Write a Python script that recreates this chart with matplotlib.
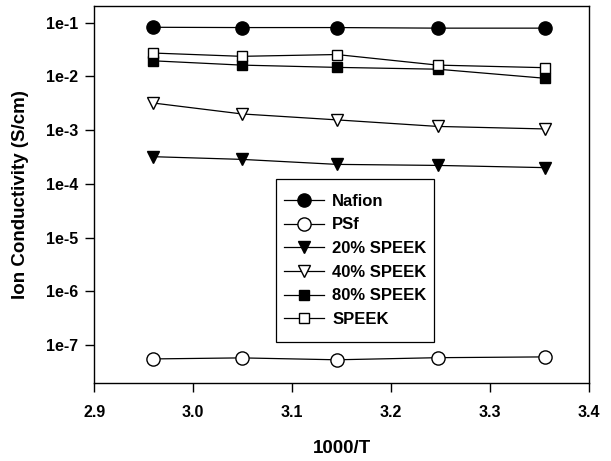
import matplotlib
matplotlib.use("Agg")
import matplotlib.pyplot as plt
from matplotlib.patches import Rectangle
from matplotlib.ticker import NullLocator

plt.rcParams["font.family"] = ["Liberation Sans", "DejaVu Sans"]
plt.rcParams["font.weight"] = "bold"

# 1000/T values (T = 338, 328, 318, 308, 298 K)
inv_t = [2.959, 3.049, 3.145, 3.247, 3.356]

nafion = [0.082, 0.081, 0.081, 0.079, 0.079]
psf = [5.5e-8, 5.75e-8, 5.3e-8, 5.8e-8, 6.0e-8]
speek20 = [3.2e-4, 2.85e-4, 2.3e-4, 2.2e-4, 2.0e-4]
speek40 = [3.2e-3, 2.0e-3, 1.55e-3, 1.17e-3, 1.05e-3]
speek80 = [0.0195, 0.0162, 0.0147, 0.0136, 0.0092]
speek = [0.0272, 0.0236, 0.0255, 0.0162, 0.0145]

series = [
    ("Nafion", nafion, "o", "black", 9.5),
    ("PSf", psf, "o", "white", 9.5),
    ("20% SPEEK", speek20, "v", "black", 9),
    ("40% SPEEK", speek40, "v", "white", 9),
    ("80% SPEEK", speek80, "s", "black", 7.5),
    ("SPEEK", speek, "s", "white", 7.5),
]

fig = plt.figure(figsize=(6.11, 4.61), dpi=100)
ax = fig.add_axes([0.1543, 0.1692, 0.8097, 0.8185])

for name, vals, mk, fc, ms in series:
    ax.plot(inv_t, vals, color="black", lw=0.9, marker=mk, ms=ms,
            mfc=fc, mec="black", mew=1.0, label=name)

ax.set_yscale("log")
ax.set_xlim(2.9, 3.4)
ax.set_ylim(1.96e-8, 0.207)
ax.set_xticks([2.9, 3.0, 3.1, 3.2, 3.3, 3.4])
ax.set_xticklabels(["2.9", "3.0", "3.1", "3.2", "3.3", "3.4"])
ax.set_yticks([1e-7, 1e-6, 1e-5, 1e-4, 1e-3, 1e-2, 1e-1])
ax.set_yticklabels([f"1e-{k}" for k in range(7, 0, -1)])
ax.yaxis.set_minor_locator(NullLocator())
ax.tick_params(direction="out", length=6.5, width=1, labelsize=11.5)
ax.tick_params(axis="y", pad=5)
ax.tick_params(axis="x", pad=9)
for s in ax.spines.values():
    s.set_linewidth(1.0)

ax.set_xlabel("1000/T", fontsize=13.5, fontweight="bold", labelpad=15)
ax.set_ylabel("Ion Conductivity (S/cm)", fontsize=13.5, fontweight="bold", labelpad=12)

leg = ax.legend(loc="upper left", bbox_to_anchor=(0.368, 0.5215), borderaxespad=0,
                frameon=False, fontsize=12, handlelength=2.4, labelspacing=0.52,
                borderpad=0.45, handletextpad=0.5)

# legend frame with a little extra room above and below the entries
fig.canvas.draw()
bb = leg.get_window_extent()
extra = 7
(x0, y0), (x1, y1) = fig.transFigure.inverted().transform(
    [(bb.x0, bb.y0 - extra), (bb.x1, bb.y1 + extra)])
fig.add_artist(Rectangle((x0, y0), x1 - x0, y1 - y0, transform=fig.transFigure,
                         facecolor="none", edgecolor="black", lw=0.9, zorder=6))

fig.savefig("out.png", dpi=100)
